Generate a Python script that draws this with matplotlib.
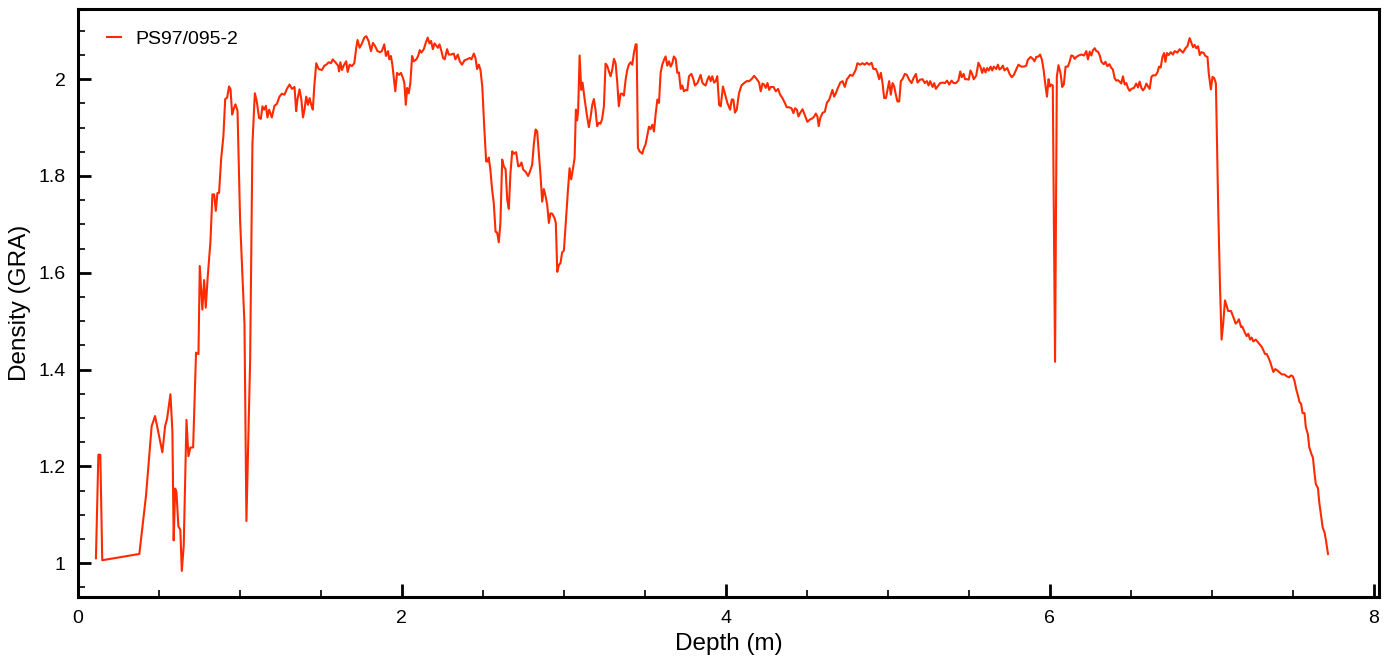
import matplotlib
matplotlib.use("Agg")
import matplotlib.pyplot as plt
from matplotlib.ticker import MultipleLocator

plt.rcParams["font.family"] = ["Liberation Sans", "DejaVu Sans"]

# core PS97/095-2, GRA density against depth
depth = [
    0.111, 0.126, 0.138, 0.150, 0.379, 0.420, 0.455, 0.476, 0.521, 0.538, 0.550, 0.571, 0.583,
    0.591, 0.600, 0.608, 0.620, 0.632, 0.641, 0.653, 0.670, 0.682, 0.694, 0.711, 0.729, 0.744,
    0.752, 0.768, 0.779, 0.789, 0.801, 0.818, 0.830, 0.841, 0.851, 0.861, 0.871, 0.884, 0.898,
    0.909, 0.921, 0.933, 0.942, 0.952, 0.962, 0.972, 0.985, 1.001, 1.028, 1.040, 1.063, 1.077,
    1.092, 1.104, 1.118, 1.129, 1.139, 1.149, 1.160, 1.170, 1.180, 1.197, 1.213, 1.228, 1.244,
    1.259, 1.275, 1.290, 1.306, 1.321, 1.337, 1.347, 1.355, 1.368, 1.379, 1.389, 1.399, 1.409,
    1.420, 1.430, 1.440, 1.450, 1.459, 1.471, 1.486, 1.506, 1.521, 1.533, 1.548, 1.562, 1.573,
    1.589, 1.606, 1.612, 1.620, 1.630, 1.640, 1.656, 1.665, 1.677, 1.691, 1.706, 1.718, 1.726,
    1.739, 1.753, 1.768, 1.780, 1.794, 1.809, 1.821, 1.835, 1.849, 1.866, 1.876, 1.891, 1.901,
    1.914, 1.922, 1.932, 1.941, 1.949, 1.959, 1.970, 1.982, 1.994, 2.007, 2.015, 2.024, 2.032,
    2.042, 2.052, 2.063, 2.073, 2.089, 2.100, 2.110, 2.120, 2.135, 2.147, 2.159, 2.170, 2.180,
    2.191, 2.201, 2.211, 2.222, 2.232, 2.244, 2.254, 2.264, 2.279, 2.289, 2.303, 2.320, 2.330,
    2.345, 2.357, 2.371, 2.386, 2.402, 2.419, 2.429, 2.444, 2.454, 2.464, 2.475, 2.485, 2.496,
    2.509, 2.520, 2.530, 2.536, 2.546, 2.557, 2.567, 2.578, 2.588, 2.598, 2.608, 2.619, 2.629,
    2.640, 2.650, 2.660, 2.670, 2.681, 2.691, 2.705, 2.718, 2.728, 2.738, 2.749, 2.763, 2.779,
    2.790, 2.804, 2.814, 2.825, 2.835, 2.845, 2.856, 2.866, 2.876, 2.887, 2.897, 2.907, 2.917,
    2.928, 2.942, 2.950, 2.959, 2.969, 2.979, 2.989, 3.000, 3.014, 3.025, 3.035, 3.045, 3.055,
    3.066, 3.074, 3.082, 3.088, 3.097, 3.107, 3.115, 3.127, 3.140, 3.154, 3.164, 3.175, 3.185,
    3.195, 3.205, 3.216, 3.226, 3.236, 3.247, 3.257, 3.267, 3.278, 3.288, 3.298, 3.309, 3.319,
    3.329, 3.339, 3.350, 3.360, 3.370, 3.381, 3.391, 3.401, 3.412, 3.422, 3.432, 3.443, 3.449,
    3.457, 3.467, 3.484, 3.494, 3.504, 3.515, 3.525, 3.535, 3.546, 3.556, 3.566, 3.577, 3.587,
    3.597, 3.607, 3.618, 3.628, 3.638, 3.649, 3.659, 3.669, 3.679, 3.690, 3.700, 3.710, 3.721,
    3.731, 3.741, 3.752, 3.762, 3.772, 3.787, 3.799, 3.809, 3.824, 3.834, 3.844, 3.855, 3.865,
    3.875, 3.886, 3.896, 3.906, 3.916, 3.927, 3.937, 3.947,
    3.958, 3.968, 3.982, 3.999, 4.009, 4.026, 4.036, 4.046, 4.056, 4.067, 4.081, 4.096, 4.112,
    4.129, 4.143, 4.158, 4.174, 4.191, 4.205, 4.215, 4.226, 4.236, 4.246, 4.257, 4.267, 4.277,
    4.294, 4.308, 4.322, 4.335, 4.349, 4.364, 4.376, 4.390, 4.405, 4.417, 4.427, 4.438, 4.448,
    4.458, 4.473, 4.487, 4.503, 4.520, 4.534, 4.545, 4.555, 4.565, 4.573, 4.582, 4.596, 4.611,
    4.623, 4.638, 4.648, 4.658, 4.668, 4.679, 4.689, 4.706, 4.720, 4.734, 4.747, 4.757, 4.767,
    4.782, 4.792, 4.802, 4.812, 4.829, 4.843, 4.857, 4.870, 4.884, 4.899, 4.911, 4.926, 4.936,
    4.946, 4.957, 4.967, 4.977, 4.988, 4.998, 5.008, 5.018, 5.029, 5.039, 5.049, 5.059, 5.070,
    5.080, 5.090, 5.105, 5.117, 5.131, 5.146, 5.158, 5.173, 5.183, 5.199, 5.214, 5.228, 5.241,
    5.251, 5.261, 5.276, 5.286, 5.296, 5.311, 5.323, 5.338, 5.352, 5.365, 5.379, 5.393, 5.406,
    5.420, 5.435, 5.447, 5.456, 5.468, 5.476, 5.489, 5.499, 5.510, 5.520, 5.530, 5.545, 5.559,
    5.572, 5.582, 5.592, 5.603, 5.613, 5.623, 5.634, 5.644, 5.654, 5.669, 5.679, 5.689, 5.700,
    5.710, 5.720, 5.737, 5.751, 5.765, 5.778, 5.792, 5.806, 5.823, 5.839, 5.854, 5.864, 5.881,
    5.895, 5.905, 5.916, 5.930, 5.940, 5.951, 5.961, 5.971, 5.982, 5.992, 6.000, 6.008,
    6.018, 6.032, 6.043, 6.053, 6.066, 6.076, 6.086, 6.097, 6.111, 6.122, 6.132, 6.143, 6.153,
    6.163, 6.178, 6.194, 6.211, 6.225, 6.235, 6.246, 6.256, 6.266, 6.277, 6.287, 6.297, 6.308,
    6.318, 6.333, 6.343, 6.355, 6.368, 6.378, 6.389, 6.400, 6.410, 6.420, 6.431, 6.441, 6.451,
    6.462, 6.472, 6.482, 6.492, 6.503, 6.519, 6.533, 6.544, 6.554, 6.565, 6.575, 6.586, 6.596,
    6.606, 6.616, 6.627, 6.637, 6.652, 6.664, 6.674, 6.684, 6.695, 6.705, 6.713, 6.723, 6.734,
    6.746, 6.760, 6.770, 6.787, 6.801, 6.812, 6.822, 6.837, 6.849, 6.863, 6.873, 6.884, 6.894,
    6.904, 6.915, 6.925, 6.935, 6.950, 6.960, 6.973, 6.981, 6.994, 7.004, 7.015, 7.025, 7.039,
    7.050, 7.060, 7.070, 7.081, 7.091, 7.101, 7.118, 7.132, 7.147, 7.159, 7.167, 7.180, 7.188,
    7.200, 7.215, 7.225, 7.236, 7.246, 7.256, 7.271, 7.283, 7.298, 7.308, 7.318, 7.329, 7.339,
    7.349, 7.360, 7.370, 7.380, 7.391, 7.401, 7.415, 7.432, 7.448, 7.463, 7.477, 7.489, 7.500,
    7.510, 7.521, 7.531, 7.541, 7.551, 7.560, 7.572, 7.580, 7.593, 7.601, 7.614, 7.624, 7.634,
    7.642, 7.655, 7.663, 7.676, 7.684, 7.696, 7.704, 7.717,
]

density = [
    1.010, 1.224, 1.224, 1.006, 1.019, 1.139, 1.283, 1.304, 1.229, 1.283, 1.298, 1.349, 1.272,
    1.047, 1.154, 1.147, 1.076, 1.069, 0.984, 1.036, 1.296, 1.221, 1.239, 1.239, 1.435, 1.432,
    1.614, 1.524, 1.585, 1.528, 1.591, 1.665, 1.762, 1.762, 1.728, 1.765, 1.765, 1.835, 1.883,
    1.959, 1.962, 1.985, 1.979, 1.927, 1.939, 1.948, 1.935, 1.709, 1.494, 1.087, 1.420, 1.865,
    1.971, 1.954, 1.920, 1.918, 1.944, 1.937, 1.945, 1.921, 1.937, 1.921, 1.945, 1.949, 1.964,
    1.970, 1.968, 1.980, 1.989, 1.980, 1.984, 1.934, 1.958, 1.979, 1.958, 1.921, 1.938, 1.964,
    1.947, 1.961, 1.947, 1.937, 1.985, 2.033, 2.021, 2.019, 2.028, 2.030, 2.035, 2.033, 2.041,
    2.035, 2.028, 2.016, 2.035, 2.019, 2.028, 2.037, 2.015, 2.030, 2.027, 2.033, 2.065, 2.081,
    2.065, 2.074, 2.086, 2.089, 2.079, 2.058, 2.075, 2.068, 2.058, 2.056, 2.058, 2.072, 2.048,
    2.058, 2.041, 2.048, 2.030, 2.006, 1.975, 2.013, 2.009, 2.013, 2.002, 1.992, 1.947, 1.982,
    1.971, 1.992, 2.048, 2.037, 2.041, 2.048, 2.060, 2.055, 2.062, 2.075, 2.086, 2.074, 2.079,
    2.062, 2.074, 2.070, 2.065, 2.072, 2.058, 2.044, 2.041, 2.062, 2.051, 2.051, 2.053, 2.041,
    2.051, 2.037, 2.030, 2.039, 2.041, 2.044, 2.041, 2.053, 2.044, 2.021, 2.030, 2.019, 1.985,
    1.896, 1.830, 1.830, 1.838, 1.813, 1.771, 1.744, 1.685, 1.683, 1.663, 1.703, 1.834, 1.820,
    1.814, 1.751, 1.732, 1.806, 1.851, 1.846, 1.849, 1.820, 1.821, 1.828, 1.813, 1.809, 1.800,
    1.809, 1.823, 1.865, 1.896, 1.892, 1.847, 1.799, 1.747, 1.773, 1.758, 1.740, 1.703, 1.723,
    1.722, 1.713, 1.703, 1.602, 1.616, 1.620, 1.642, 1.646, 1.716, 1.771, 1.816, 1.793, 1.813,
    1.837, 1.937, 1.915, 1.937, 2.049, 1.978, 1.993, 1.961, 1.930, 1.901, 1.920, 1.947, 1.959,
    1.937, 1.903, 1.910, 1.908, 1.918, 1.944, 2.032, 2.028, 2.016, 2.006, 2.019, 2.042, 2.033,
    1.995, 1.944, 1.970, 1.970, 1.966, 1.999, 2.019, 2.030, 2.035, 2.030, 2.054, 2.072, 2.072,
    1.858, 1.851, 1.846, 1.858, 1.865, 1.885, 1.902, 1.897, 1.906, 1.892, 1.927, 1.958, 1.951,
    2.013, 2.030, 2.040, 2.047, 2.028, 2.037, 2.026, 2.033, 2.047, 2.042, 2.013, 2.014, 1.980,
    1.987, 1.975, 1.978, 1.977, 2.006, 2.011, 2.000, 1.987, 1.992, 2.000, 2.009, 1.993, 1.989,
    1.987, 1.999, 2.006, 1.996, 2.006, 1.993, 1.996, 2.006,
    1.947, 1.944, 1.985, 1.964, 1.951, 1.937, 1.958, 1.958, 1.931, 1.937, 1.971, 1.987, 1.992,
    1.996, 1.996, 2.000, 2.007, 2.000, 1.993, 1.975, 1.991, 1.989, 1.982, 1.992, 1.978, 1.984,
    1.984, 1.975, 1.980, 1.968, 1.961, 1.951, 1.942, 1.942, 1.940, 1.930, 1.940, 1.937, 1.923,
    1.930, 1.938, 1.926, 1.912, 1.917, 1.919, 1.923, 1.929, 1.923, 1.903, 1.919, 1.930, 1.933,
    1.951, 1.958, 1.968, 1.978, 1.964, 1.971, 1.980, 1.993, 1.996, 1.984, 2.000, 2.004, 2.009,
    2.007, 2.013, 2.020, 2.033, 2.030, 2.033, 2.030, 2.034, 2.030, 2.034, 2.021, 2.021, 2.013,
    2.000, 2.013, 1.992, 1.961, 1.961, 1.978, 1.996, 1.968, 1.992, 1.985, 1.968, 1.954, 1.954,
    1.996, 2.000, 2.011, 2.009, 1.999, 1.992, 2.002, 2.011, 1.993, 1.999, 2.000, 1.992, 1.996,
    1.987, 1.996, 1.984, 1.992, 1.980, 1.987, 1.992, 1.993, 1.992, 1.997, 1.989, 1.997, 1.992,
    1.992, 1.997, 2.016, 2.004, 2.011, 2.000, 2.000, 1.999, 2.018, 2.011, 2.000, 2.007, 2.034,
    2.025, 2.013, 2.023, 2.014, 2.023, 2.018, 2.026, 2.018, 2.026, 2.021, 2.030, 2.020, 2.023,
    2.028, 2.018, 2.023, 2.011, 2.004, 2.009, 2.020, 2.030, 2.026, 2.026, 2.028, 2.040, 2.046,
    2.042, 2.037, 2.046, 2.047, 2.051, 2.040, 2.020, 1.992, 1.964, 2.000, 1.985, 1.989,
    1.987, 1.416, 2.005, 2.029, 2.012, 1.984, 1.989, 2.026, 2.026, 2.036, 2.049, 2.048, 2.042,
    2.046, 2.049, 2.051, 2.049, 2.058, 2.041, 2.057, 2.049, 2.060, 2.064, 2.058, 2.057, 2.049,
    2.036, 2.031, 2.036, 2.027, 2.031, 2.024, 2.020, 2.002, 1.997, 1.998, 1.995, 1.991, 2.006,
    1.989, 1.992, 1.982, 1.976, 1.980, 1.982, 1.991, 1.983, 1.995, 1.982, 1.977, 1.982, 1.991,
    1.985, 1.980, 2.005, 2.008, 2.008, 2.014, 2.026, 2.024, 2.046, 2.054, 2.036, 2.054, 2.050,
    2.056, 2.051, 2.058, 2.055, 2.062, 2.058, 2.055, 2.064, 2.068, 2.085, 2.076, 2.066, 2.071,
    2.064, 2.068, 2.050, 2.056, 2.054, 2.048, 2.046, 2.012, 1.979, 2.005, 2.002, 1.991, 1.739,
    1.576, 1.462, 1.495, 1.543, 1.532, 1.521, 1.521, 1.509, 1.495, 1.499, 1.504, 1.488, 1.489,
    1.479, 1.469, 1.474, 1.462, 1.466, 1.458, 1.462, 1.457, 1.451, 1.447, 1.440, 1.432, 1.432,
    1.425, 1.416, 1.405, 1.395, 1.401, 1.399, 1.395, 1.390, 1.390, 1.386, 1.384, 1.388, 1.386,
    1.377, 1.359, 1.347, 1.333, 1.329, 1.310, 1.310, 1.281, 1.266, 1.240, 1.226, 1.218, 1.185,
    1.163, 1.155, 1.126, 1.093, 1.074, 1.063, 1.048, 1.019,
]

fig = plt.figure(figsize=(13.97, 6.69), dpi=100)
ax = fig.add_axes([0.0558, 0.1076, 0.9311, 0.8789])

ax.plot(depth, density, color="#ff2a00", linewidth=1.5, label="PS97/095-2")

ax.set_xlim(0, 8.03)
ax.set_ylim(0.93, 2.145)
ax.xaxis.set_major_locator(MultipleLocator(2))
ax.xaxis.set_minor_locator(MultipleLocator(0.5))
ax.yaxis.set_minor_locator(MultipleLocator(0.05))
ax.set_yticks([1, 1.2, 1.4, 1.6, 1.8, 2])
ax.set_yticklabels(["1", "1.2", "1.4", "1.6", "1.8", "2"])

ax.tick_params(which="both", direction="in", top=False, right=False, labelsize=14)
ax.tick_params(which="major", length=9.5, width=2, pad=9)
ax.tick_params(which="minor", length=5, width=1.2)
for s in ax.spines.values():
    s.set_linewidth(2.2)

ax.set_xlabel("Depth (m)", fontsize=17.5, labelpad=5)
ax.set_ylabel("Density (GRA)", fontsize=17.5, labelpad=5)

ax.legend(loc="upper left", bbox_to_anchor=(0.0223, 0.964), frameon=False, fontsize=14,
          borderpad=0, borderaxespad=0, handlelength=0.7, handletextpad=0.75)

fig.savefig("out.png", dpi=100)
